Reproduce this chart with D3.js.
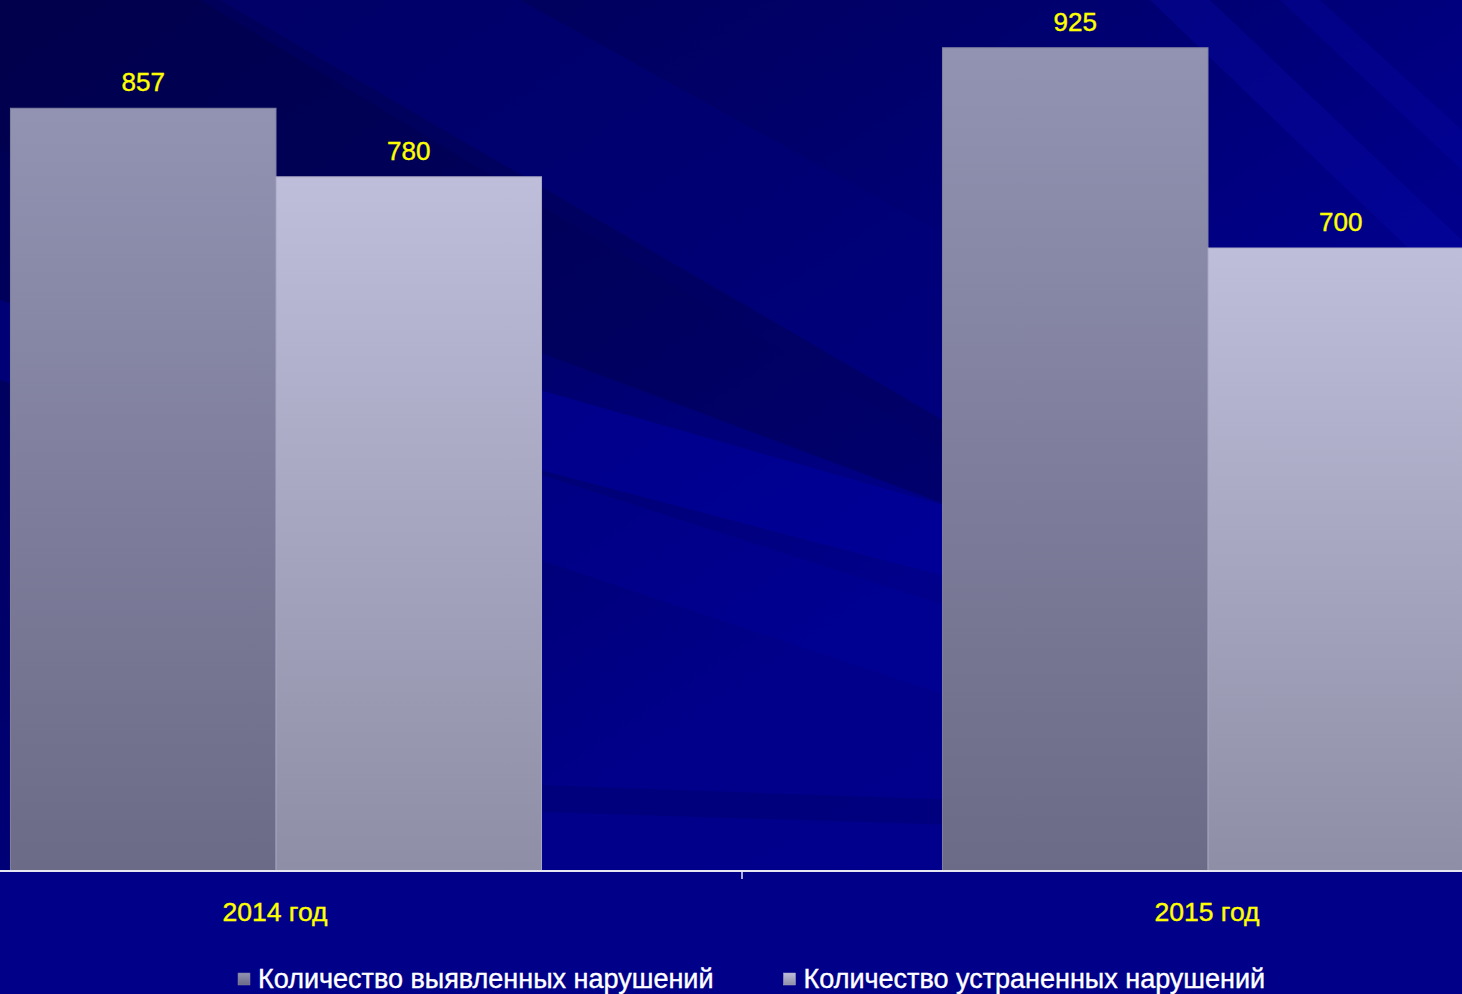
<!DOCTYPE html>
<html><head><meta charset="utf-8">
<script src="https://cdn.jsdelivr.net/npm/d3@7"></script>
<style>html,body{margin:0;padding:0;background:#000088;overflow:hidden}svg{display:block}</style>
</head><body>
<svg id="chart" width="1462" height="994"></svg>
<script>
const categories = ["2014 год", "2015 год"];
const seriesNames = ["Количество выявленных нарушений", "Количество устраненных нарушений"];
const detected = [857, 925];
const fixed = [780, 700];

const W = 1462, H = 994;
const svg = d3.select("#chart");
const defs = svg.append("defs");

// background
const bg = defs.append("linearGradient").attr("id","bg").attr("x1","0").attr("y1","0").attr("x2","1").attr("y2","1");
bg.append("stop").attr("offset","0").attr("stop-color","#00004e");
bg.append("stop").attr("offset","0.35").attr("stop-color","#00006c");
bg.append("stop").attr("offset","0.6").attr("stop-color","#00008a");
bg.append("stop").attr("offset","1").attr("stop-color","#000090");
svg.append("rect").attr("width",W).attr("height",H).attr("fill","url(#bg)");

// decorative diagonal streaks
const streaks = [
  {p:[[200,0],[520,0],[1462,520],[1462,760]], c:"#00007a", o:0.5},
  {p:[[0,300],[0,380],[960,700],[960,610]], c:"#00009c", o:0.4},
  {p:[[540,390],[540,470],[960,580],[960,510]], c:"#0000a4", o:0.5},
  {p:[[1150,0],[1210,0],[1462,240],[1462,300]], c:"#0808a8", o:0.35},
  {p:[[1280,0],[1320,0],[1462,130],[1462,170]], c:"#0808a8", o:0.3},
  {p:[[0,0],[220,0],[960,430],[960,510],[0,150]], c:"#000048", o:0.4},
  {p:[[540,785],[960,800],[960,825],[540,812]], c:"#000070", o:0.5}
];
svg.append("g").selectAll("path").data(streaks).join("path")
  .attr("d", d => d3.line()(d.p) + "Z")
  .attr("fill", d => d.c).attr("opacity", d => d.o);
svg.append("rect").attr("x",0).attr("y",872).attr("width",W).attr("height",H-872).attr("fill","#000088");

// gradients for bars
const grads = [
  {id:"g0", top:"#9292b2", bot:"#6b6b87", stroke:"#8080a0"},
  {id:"g1", top:"#bebedb", bot:"#8e8ea6", stroke:"#a8a8c4"}
];
grads.forEach(g => {
  const lg = defs.append("linearGradient").attr("id", g.id).attr("x1","0").attr("y1","0").attr("x2","0").attr("y2","1");
  lg.append("stop").attr("offset","0").attr("stop-color", g.top);
  lg.append("stop").attr("offset","1").attr("stop-color", g.bot);
});

const y = d3.scaleLinear().domain([0, 1000]).range([871, -19]);
const x0 = d3.scaleBand().domain(categories).range([-190, 1674]).paddingInner(0).paddingOuter(0);
const x1 = d3.scaleBand().domain(seriesNames).range([0, x0.bandwidth()]).paddingInner(0).paddingOuter(0.755);

const rows = categories.map((c, i) => ({cat: c, vals: [
  {s: seriesNames[0], v: detected[i], k: 0},
  {s: seriesNames[1], v: fixed[i], k: 1}
]}));

const font = "'Liberation Sans', Arial, sans-serif";

const groups = svg.append("g").selectAll("g").data(rows).join("g")
  .attr("transform", d => `translate(${x0(d.cat)},0)`);
groups.selectAll("rect").data(d => d.vals).join("rect")
  .attr("x", d => x1(d.s)).attr("width", x1.bandwidth())
  .attr("y", d => y(d.v)).attr("height", d => y(0) - y(d.v))
  .attr("fill", d => `url(#g${d.k})`)
  .attr("stroke", d => grads[d.k].stroke).attr("stroke-width", 1);
groups.selectAll("text").data(d => d.vals).join("text")
  .attr("x", d => x1(d.s) + x1.bandwidth()/2)
  .attr("y", d => y(d.v) - 17)
  .attr("text-anchor","middle")
  .attr("font-family", font)
  .attr("font-size", 26).attr("fill","#ffff00")
  .attr("stroke","#ffff00").attr("stroke-width",0.4)
  .text(d => d.v);

// x axis
const axis = svg.append("g").attr("transform", `translate(0,${y(0)})`);
axis.append("line").attr("x1",0).attr("x2",W).attr("y1",0).attr("y2",0)
  .attr("stroke","#e6e6f2").attr("stroke-width",2);
axis.append("line").attr("x1",x0("2015 год")).attr("x2",x0("2015 год")).attr("y1",0).attr("y2",8)
  .attr("stroke","#e6e6f2").attr("stroke-width",1.5);
axis.selectAll("text.cat").data(categories).join("text").attr("class","cat")
  .attr("x", d => x0(d) + x0.bandwidth()/2 - 1)
  .attr("y", 50)
  .attr("text-anchor","middle")
  .attr("font-family", font)
  .attr("font-size", 26.5).attr("fill","#ffff00")
  .attr("stroke","#ffff00").attr("stroke-width",0.4)
  .text(d => d);

// legend
const legend = svg.append("g");
const items = legend.selectAll("g").data(seriesNames).join("g");
items.append("rect").attr("width",12).attr("height",12).attr("y",-15)
  .attr("fill", (d,i) => `url(#g${i})`).attr("stroke", (d,i)=>grads[i].stroke).attr("stroke-width",0.5);
items.append("text").attr("x",20).attr("y",0)
  .attr("font-family", font)
  .attr("font-size", 27).attr("fill","#ffffff")
  .attr("stroke","#ffffff").attr("stroke-width",0.4)
  .text(d => d);
let pos = 238;
items.each(function(d, i){
  d3.select(this).attr("transform", `translate(${pos},988)`);
  const w = this.querySelector("text").getComputedTextLength();
  pos += 20 + w + 70;
});
</script>
</body></html>
